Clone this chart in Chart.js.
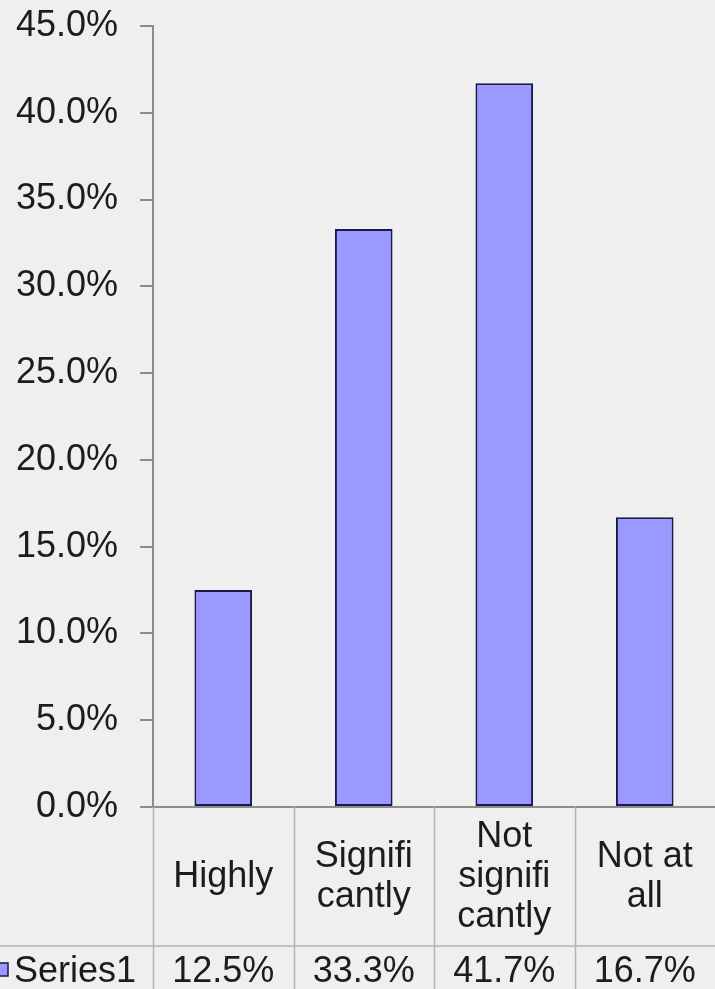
<!DOCTYPE html>
<html>
<head>
<meta charset="utf-8">
<script src="https://cdn.jsdelivr.net/npm/chart.js@4"></script>
<style>
  html, body { margin: 0; padding: 0; background: #efefef; }
  #wrap { width: 715px; height: 989px; }
</style>
</head>
<body>
<div id="wrap"><canvas id="chart"></canvas></div>
<script>
const categories = [["Highly"], ["Signifi", "cantly"], ["Not", "signifi", "cantly"], ["Not at", "all"]];
const seriesName = "Series1";
const values = [0.125, 0.333, 0.417, 0.167];
const yTicks = { min: 0, max: 0.45, step: 0.05 };

const FONT = "'Liberation Sans', Arial, sans-serif";
const FONT_SIZE = 36;
const TEXT = '#1c1c1c';
const TABLE_H = 182;

const pct = v => (v * 100).toFixed(1) + '%';

// draws the data table under the plot, Excel style
const dataTable = {
    id: 'dataTable',
    afterDraw(chart) {
        const ctx = chart.ctx;
        const area = chart.chartArea;
        const x = chart.scales.x;
        const n = categories.length;
        const w = (area.right - area.left) / n;
        const top = area.bottom;
        const rowY = top + 139;
        const bottom = chart.height;

        ctx.save();
        ctx.strokeStyle = '#b4b4b4';
        ctx.lineWidth = 1.5;
        ctx.beginPath();
        ctx.moveTo(0, rowY);
        ctx.lineTo(area.right, rowY);
        for (let i = 0; i < n; i++) {
            const lx = Math.round(area.left + i * w) + 0.5;
            ctx.moveTo(lx, top);
            ctx.lineTo(lx, bottom);
        }
        ctx.stroke();

        ctx.fillStyle = TEXT;
        ctx.font = FONT_SIZE + 'px ' + FONT;
        ctx.textAlign = 'center';
        ctx.textBaseline = 'middle';
        const lh = 40;
        categories.forEach((lines, i) => {
            const cx = x.getPixelForValue(i);
            const cy = top + 70;
            const y0 = cy - (lines.length - 1) * lh / 2;
            lines.forEach((t, j) => ctx.fillText(t, cx, y0 + j * lh));
            ctx.fillText(pct(values[i]), cx, rowY + 26);
        });

        // legend key + series name
        ctx.fillStyle = '#9999ff';
        ctx.strokeStyle = '#1a1a4a';
        ctx.lineWidth = 1.5;
        ctx.fillRect(-3, rowY + 17, 11, 13);
        ctx.strokeRect(-3, rowY + 17, 11, 13);
        ctx.fillStyle = TEXT;
        ctx.textAlign = 'left';
        ctx.fillText(seriesName, 14, rowY + 26);
        ctx.restore();
    }
};

new Chart(document.getElementById('chart'), {
    type: 'bar',
    data: {
        labels: categories.map(c => c.join(' ')),
        datasets: [{
            label: seriesName,
            data: values,
            backgroundColor: '#9999ff',
            borderColor: '#1a1a4a',
            borderWidth: 2,
            borderSkipped: false,
            categoryPercentage: 1,
            barPercentage: 0.41
        }]
    },
    options: {
        responsive: true,
        maintainAspectRatio: false,
        animation: false,
        layout: { padding: { top: 26, right: 0, bottom: 0, left: 0 } },
        plugins: { legend: { display: false }, tooltip: { enabled: false } },
        scales: {
            x: {
                grid: { display: false },
                border: { color: '#8c8c8c', width: 2 },
                ticks: { display: false },
                afterFit: s => { s.height = TABLE_H; }
            },
            y: {
                min: yTicks.min,
                max: yTicks.max,
                afterFit: s => { s.width = 153; s.paddingTop = 0; s.paddingBottom = 0; },
                grid: { drawOnChartArea: false, drawTicks: true, tickLength: 13, color: '#8c8c8c', lineWidth: 2 },
                border: { color: '#8c8c8c', width: 2 },
                ticks: {
                    stepSize: yTicks.step,
                    padding: 22,
                    color: TEXT,
                    font: { family: FONT, size: FONT_SIZE },
                    callback: v => pct(v)
                }
            }
        }
    },
    plugins: [dataTable]
});
</script>
</body>
</html>
